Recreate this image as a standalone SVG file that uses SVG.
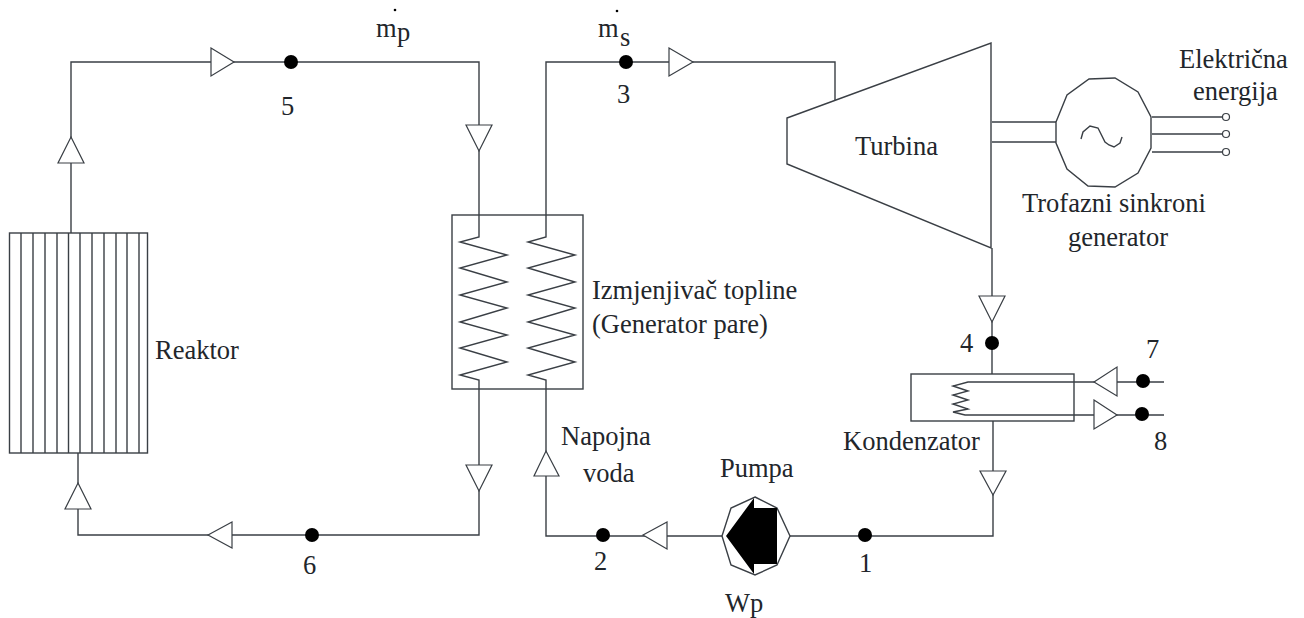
<svg xmlns="http://www.w3.org/2000/svg" width="1304" height="618" viewBox="0 0 1304 618">
<style>
.l{fill:none;stroke:#3a3f45;stroke-width:1.4;stroke-linejoin:miter}
.a{fill:#fff;stroke:#3a3f45;stroke-width:1.2}
.d{fill:#000}
text{font-family:"Liberation Serif","Times New Roman",serif;font-size:26.500px;fill:#22262b;stroke:none}
</style>
<rect width="1304" height="618" fill="#fff"/>
<g id="connectors" class="l">
<path d="M71 233V62H479V215"/>
<path d="M546 215V62H835V100"/>
<path d="M479 389V535H78V453"/>
<path d="M546 389V536H722"/>
<path d="M790 536H993V421"/>
<path d="M992 248V374"/>
<path d="M1074 382H1164M1074 415H1164"/>
<path d="M1152 117H1222M1152 134H1222M1152 152H1222"/>
<g class="a">
<polygon points="211,48 234,62 211,76"/>
<polygon points="71,137 84,163 58,163"/>
<polygon points="466,125 492,125 479,151"/>
<polygon points="466,465 492,465 479,491"/>
<polygon points="208,535 232,522 232,548"/>
<polygon points="78,483 91,509 65,509"/>
<polygon points="546,451 559,476 534,476"/>
<polygon points="643,535 667,522 667,549"/>
<polygon points="669,48 693,62 669,76"/>
<polygon points="979,296 1005,296 992,322"/>
<polygon points="980,471 1006,471 993,495"/>
<polygon points="1094,382 1117,367 1117,396"/>
<polygon points="1094,400 1117,415 1094,429"/>
</g>
</g>
<g id="reaktor" class="l">
<rect x="9.500" y="233" width="138" height="220"/>
<path d="M21 233V453M33 233V453M45 233V453M57 233V453M68.500 233V453M80 233V453M92 233V453M104 233V453M116 233V453M127 233V453M139 233V453"/>
<text x="155" y="359">Reaktor</text>
</g>
<g id="izmjenjivac" class="l">
<rect x="452" y="215" width="131" height="174"/>
<path d="M479 215V237L460 242L507 255L460 268L507 282L460 295L507 308L460 322L507 335L460 348L507 362L460 375L479 380V389"/>
<path d="M546 215V237L528 242L575 255L528 268L575 282L528 295L575 308L528 322L575 335L528 348L575 362L528 375L546 380V389"/>
<text x="592" y="299">Izmjenjivač topline</text>
<text x="592" y="333">(Generator pare)</text>
</g>
<g id="turbina">
<polygon class="l" points="787,118 991,43 991,248 787,164"/>
<text x="855" y="155">Turbina</text>
</g>
<g id="generator">
<path class="l" d="M992 122H1056M992 142H1056"/>
<polygon class="l" points="1056,122 1067,95 1089,79 1115,78 1138,92 1151,117 1151,148 1138,173 1115,187 1088,186 1067,169 1056,143"/>
<path class="l" d="M1081 139L1083 132L1090 126L1098 128L1105 142L1109 145L1114 147L1120 143L1122 137"/>
<circle class="a" cx="1226" cy="117" r="3.500"/>
<circle class="a" cx="1226" cy="134" r="3.500"/>
<circle class="a" cx="1226" cy="152" r="3.500"/>
<text x="1022" y="212">Trofazni sinkroni</text>
<text x="1068" y="246">generator</text>
<text x="1179" y="68">Električna</text>
<text x="1193" y="100">energija</text>
</g>
<g id="kondenzator">
<rect class="l" x="911" y="374" width="163" height="47"/>
<path class="l" d="M1074 382H968L953 386L968 391L953 395L968 400L953 404L968 409L953 412L965 415H1074"/>
<text x="843" y="450">Kondenzator</text>
</g>
<g id="pumpa">
<polygon class="l" points="755,497 777,508 790,536 777,565 755,575 731,565 722,536 731,508"/>
<polygon points="726,536 754,498 754,508 777,508 777,564 754,564 754,574"/>
<text x="720" y="477">Pumpa</text>
<text x="725" y="612">Wp</text>
</g>
<g id="napojna">
<text x="561" y="445">Napojna</text>
<text x="583" y="482">voda</text>
</g>
<g id="points">
<circle class="d" cx="291" cy="62" r="7"/><text x="281" y="115">5</text>
<circle class="d" cx="626" cy="62" r="7"/><text x="617" y="103">3</text>
<circle class="d" cx="312" cy="535" r="7"/><text x="303" y="574">6</text>
<circle class="d" cx="603" cy="535" r="7"/><text x="594" y="570">2</text>
<circle class="d" cx="865" cy="535" r="7"/><text x="859" y="572">1</text>
<circle class="d" cx="992" cy="343" r="7"/><text x="960" y="352">4</text>
<circle class="d" cx="1143" cy="381" r="7"/><text x="1146" y="358">7</text>
<circle class="d" cx="1142" cy="414" r="7"/><text x="1154" y="450">8</text>
</g>
<g id="flows">
<circle class="d" cx="395" cy="10" r="1.300"/>
<text x="376" y="37">m</text><text x="397" y="41">p</text>
<circle class="d" cx="617" cy="11" r="1.300"/>
<text x="598" y="37">m</text><text x="620" y="46">s</text>
</g>
</svg>
